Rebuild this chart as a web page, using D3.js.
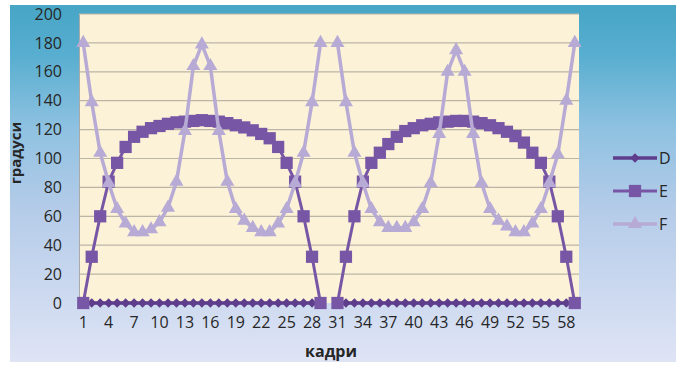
<!DOCTYPE html>
<html>
  <head>
    <meta charset="utf-8">
    <title>D E F - градуси по кадри</title>
    <script src="https://d3js.org/d3.v7.min.js"></script>
    <style>
      body { margin: 0; background: #fff; }
      text { font-family: "Open Sans", "DejaVu Sans", sans-serif; fill: #262626; }
    </style>
  </head>
  <body>
    <div id="chart"></div>
    <script>
      // кадри 1..59
      var categories = [1, 2, 3, 4, 5, 6, 7, 8, 9, 10, 11, 12, 13, 14, 15, 16, 17, 18, 19, 20,
        21, 22, 23, 24, 25, 26, 27, 28, 29, 30, 31, 32, 33, 34, 35, 36, 37, 38, 39, 40,
        41, 42, 43, 44, 45, 46, 47, 48, 49, 50, 51, 52, 53, 54, 55, 56, 57, 58, 59];
      var xTickLabels = [1, 4, 7, 10, 13, 16, 19, 22, 25, 28, 31, 34, 37, 40, 43, 46, 49, 52, 55, 58];
      var yTicks = [0, 20, 40, 60, 80, 100, 120, 140, 160, 180, 200];

      var seriesD = [0, 0, 0, 0, 0, 0, 0, 0, 0, 0, 0, 0, 0, 0, 0, 0, 0, 0, 0, 0,
        0, 0, 0, 0, 0, 0, 0, 0, 0, null, 0, 0, 0, 0, 0, 0, 0, 0, 0, 0,
        0, 0, 0, 0, 0, 0, 0, 0, 0, 0, 0, 0, 0, 0, 0, 0, 0, 0, 0];
      var seriesE = [0, 32, 60, 84, 97, 108, 115, 118.5, 121, 122.5, 124, 125, 125.5, 126, 126.5,
        126, 125.5, 124.5, 123, 121.5, 119.5, 117, 114, 108, 97, 84, 60, 32, 0, null,
        0, 32, 60, 84, 97, 104, 110, 115, 119, 121, 123, 124, 125, 125.5, 126,
        126, 125.5, 124.5, 123, 121, 118.5, 115.5, 111, 104, 97, 84, 60, 32, 0];
      var seriesF = [180, 139, 104, 83, 65, 55, 49, 49, 51, 56, 66, 84, 119, 164, 179,
        164, 119, 84, 65, 57, 52, 49, 49, 55, 65, 83, 104, 139, 180, null,
        180, 139, 104, 83, 65, 56, 52, 52, 52, 56, 65, 83, 117, 160, 175,
        160, 117, 83, 65, 57, 53, 49, 49, 55, 65, 83, 103, 140, 180];

      var seriesNames = ["D", "E", "F"];
      var seriesValues = [seriesD, seriesE, seriesF];

      var W = 678, H = 366;
      var plot = { left: 79, right: 579, top: 14, bottom: 303 };

      var colors = { D: "#5e3d8c", E: "#7757a5", F: "#b7aad5" };
      var lineWidths = { D: 3.5, E: 3, F: 3.5 };

      var svg = d3.select("#chart").append("svg")
        .attr("width", W)
        .attr("height", H);

      var defs = svg.append("defs");
      var bg = defs.append("linearGradient")
        .attr("id", "bgGrad")
        .attr("x1", 0).attr("y1", 0).attr("x2", 0).attr("y2", 1);
      bg.append("stop").attr("offset", "0%").attr("stop-color", "#47a5c5");
      bg.append("stop").attr("offset", "14%").attr("stop-color", "#58aed0");
      bg.append("stop").attr("offset", "35%").attr("stop-color", "#90c2e1");
      bg.append("stop").attr("offset", "58%").attr("stop-color", "#b5cce9");
      bg.append("stop").attr("offset", "100%").attr("stop-color", "#dfe4f5");

      // chart area background
      svg.append("rect")
        .attr("x", 10).attr("y", 5)
        .attr("width", 666).attr("height", 357)
        .attr("fill", "url(#bgGrad)");

      // plot area
      svg.append("rect")
        .attr("x", plot.left).attr("y", plot.top)
        .attr("width", plot.right - plot.left).attr("height", plot.bottom - plot.top)
        .attr("fill", "#fcf2d8");

      var x = d3.scaleBand().domain(categories).range([plot.left, plot.right]).paddingInner(0).paddingOuter(0);
      var y = d3.scaleLinear().domain([0, 200]).range([plot.bottom, plot.top]);
      var cx = function (c) { return x(c) + x.bandwidth() / 2; };

      // gridlines
      svg.append("g")
        .selectAll("line")
        .data(yTicks.filter(function (t) { return t > 0; }))
        .enter()
        .append("line")
        .attr("x1", plot.left).attr("x2", plot.right)
        .attr("y1", function (d) { return y(d); })
        .attr("y2", function (d) { return y(d); })
        .attr("stroke", "#bab5a6")
        .attr("stroke-width", 1.2);

      // y axis
      var yAxis = d3.axisLeft(y).tickValues(yTicks).tickSize(0).tickPadding(17);
      var gy = svg.append("g").attr("transform", "translate(" + plot.left + ",0)").call(yAxis);
      gy.select(".domain").attr("stroke", "#a9a9a9");
      gy.selectAll("text").attr("font-size", "16px").attr("fill", "#262626");

      // x axis
      var xAxis = d3.axisBottom(x).tickValues(xTickLabels).tickSize(0).tickPadding(14);
      var gx = svg.append("g").attr("transform", "translate(0," + plot.bottom + ")").call(xAxis);
      gx.select(".domain").remove();
      gx.selectAll("text").attr("font-size", "16px").attr("fill", "#262626");

      // axis titles
      svg.append("text")
        .text("кадри")
        .attr("x", 331).attr("y", 357)
        .attr("text-anchor", "middle")
        .attr("font-size", "16px")
        .attr("font-weight", "bold");

      svg.append("text")
        .text("градуси")
        .attr("transform", "translate(21,153) rotate(-90)")
        .attr("text-anchor", "middle")
        .attr("font-size", "15px")
        .attr("font-weight", "bold");

      var symbolFor = {
        D: d3.symbol().type(d3.symbolSquare).size(44),
        E: d3.symbol().type(d3.symbolSquare).size(150),
        F: d3.symbol().type(d3.symbolTriangle).size(85)
      };
      var rotateFor = { D: 45, E: 0, F: 0 };

      var line = d3.line()
        .defined(function (d) { return d.v != null; })
        .x(function (d) { return cx(d.c); })
        .y(function (d) { return y(d.v); });

      seriesNames.forEach(function (name, i) {
        var pts = categories.map(function (c, j) { return { c: c, v: seriesValues[i][j] }; });
        var g = svg.append("g").attr("class", "series-" + name);

        g.append("path")
          .datum(pts)
          .attr("d", line)
          .attr("fill", "none")
          .attr("stroke", colors[name])
          .attr("stroke-width", lineWidths[name])
          .attr("stroke-linejoin", "round");

        g.selectAll("path.marker")
          .data(pts.filter(function (d) { return d.v != null; }))
          .enter()
          .append("path")
          .attr("class", "marker")
          .attr("d", symbolFor[name])
          .attr("transform", function (d) {
            return "translate(" + cx(d.c) + "," + y(d.v) + ") rotate(" + rotateFor[name] + ")";
          })
          .attr("fill", colors[name]);
      });

      // legend
      var legend = svg.append("g").attr("class", "legend");
      var legendItems = legend.selectAll("g")
        .data(seriesNames)
        .enter()
        .append("g")
        .attr("transform", function (d, i) { return "translate(613," + (158 + i * 33) + ")"; });

      legendItems.append("line")
        .attr("x1", 0).attr("x2", 44)
        .attr("y1", 0).attr("y2", 0)
        .attr("stroke", function (d) { return colors[d]; })
        .attr("stroke-width", function (d) { return lineWidths[d]; });

      legendItems.append("path")
        .attr("d", function (d) { return symbolFor[d](); })
        .attr("transform", function (d) { return "translate(22,0) rotate(" + rotateFor[d] + ")"; })
        .attr("fill", function (d) { return colors[d]; });

      legendItems.append("text")
        .text(function (d) { return d; })
        .attr("x", 46)
        .attr("y", 0)
        .attr("dy", "0.35em")
        .attr("font-size", "16px");
    </script>
  </body>
</html>
